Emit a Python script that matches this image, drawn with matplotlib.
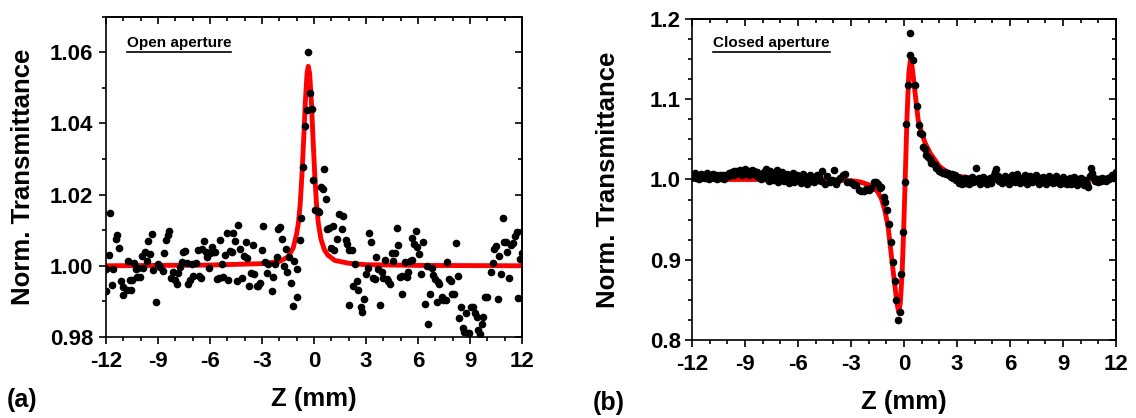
import matplotlib
matplotlib.use('Agg')
import matplotlib.pyplot as plt
from matplotlib.ticker import MultipleLocator, FormatStrFormatter, FuncFormatter
from matplotlib.lines import Line2D

plt.rcParams['font.family'] = ['Liberation Sans', 'DejaVu Sans']
plt.rcParams['font.weight'] = 'bold'

# ---- open aperture scan ----
z_open = [-12.0, -12.0, -11.83, -11.77, -11.67, -11.58, -11.44, -11.35, -11.25, -11.15,
          -11.04, -11.0, -10.81, -10.75, -10.62, -10.56, -10.48, -10.37, -10.29, -10.23,
          -10.13, -10.04, -9.94, -9.85, -9.75, -9.65, -9.56, -9.46, -9.33, -9.27,
          -9.13, -8.98, -8.88, -8.73, -8.63, -8.54, -8.44, -8.35, -8.25, -8.12,
          -8.02, -7.92, -7.83, -7.73, -7.63, -7.54, -7.44, -7.35, -7.25, -7.15,
          -7.06, -6.96, -6.81, -6.67, -6.63, -6.52, -6.44, -6.35, -6.25, -6.15,
          -6.06, -6.0, -5.9, -5.81, -5.71, -5.62, -5.48, -5.44, -5.33, -5.25,
          -5.15, -5.04, -4.94, -4.85, -4.75, -4.65, -4.56, -4.42, -4.37, -4.27,
          -4.13, -4.04, -3.94, -3.85, -3.73, -3.63, -3.54, -3.44, -3.31, -3.21,
          -3.12, -3.02, -2.92, -2.83, -2.73, -2.63, -2.44, -2.35, -2.25, -2.15,
          -2.06, -1.96, -1.83, -1.73, -1.63, -1.54, -1.44, -1.35, -1.23, -1.13,
          -1.0, -0.96, -0.81, -0.73, -0.62, -0.52, -0.42, -0.33, -0.23, -0.13,
          -0.04, 0.06, 0.21, 0.29, 0.4, 0.54, 0.6, 0.67, 0.77, 0.88,
          0.98, 1.08, 1.17, 1.31, 1.46, 1.6, 1.69, 1.85, 1.92, 2.0,
          2.04, 2.17, 2.27, 2.37, 2.46, 2.56, 2.69, 2.79, 2.88, 2.98,
          3.1, 3.17, 3.29, 3.42, 3.52, 3.6, 3.71, 3.81, 3.9, 4.0,
          4.1, 4.19, 4.29, 4.38, 4.48, 4.58, 4.67, 4.77, 4.87, 4.96,
          5.06, 5.1, 5.25, 5.35, 5.44, 5.54, 5.63, 5.67, 5.77, 5.87,
          5.96, 6.06, 6.17, 6.31, 6.4, 6.5, 6.6, 6.69, 6.79, 6.88,
          6.98, 7.08, 7.13, 7.23, 7.37, 7.46, 7.6, 7.69, 7.79, 7.9,
          7.98, 8.1, 8.19, 8.29, 8.38, 8.48, 8.58, 8.67, 8.77, 8.87,
          8.96, 9.06, 9.15, 9.29, 9.38, 9.48, 9.58, 9.67, 9.77, 9.87,
          9.96, 10.2, 10.31, 10.4, 10.48, 10.6, 10.69, 10.81, 10.88, 10.96,
          11.08, 11.15, 11.27, 11.37, 11.46, 11.6, 11.69, 11.79, 11.88, 11.98]
t_open = [0.993, 0.999, 1.003, 1.0147, 0.9947, 0.999, 1.0074, 1.0086, 1.0051, 0.9958,
          0.9917, 0.9941, 0.9932, 1.0013, 0.996, 0.9932, 0.996, 1.0009, 0.999, 0.9969,
          0.9993, 0.9969, 1.0027, 0.9994, 1.0039, 1.0013, 1.0069, 1.0033, 1.0089, 0.9988,
          0.9897, 1.0005, 0.9997, 0.9985, 1.0035, 1.0072, 1.0086, 1.0098, 0.9967, 0.9983,
          0.996, 0.995, 0.998, 0.9997, 1.0011, 1.0039, 1.0042, 1.0008, 0.995, 0.996,
          1.0005, 0.9971, 1.0008, 1.0044, 0.9971, 0.9967, 1.0046, 1.007, 1.0039, 1.0025,
          0.9995, 1.0035, 1.0053, 1.0039, 1.0039, 0.9962, 0.9967, 1.0072, 1.0005, 0.9969,
          1.003, 1.0091, 0.996, 1.0042, 1.0039, 1.0091, 1.007, 0.9958, 1.0114, 1.0046,
          0.9967, 1.0027, 1.0068, 1.0023, 0.9943, 0.998, 1.0057, 0.9977, 0.9943, 0.9943,
          0.9952, 1.0044, 1.0112, 1.0011, 0.9981, 1.0005, 0.9929, 0.9969, 1.0005, 1.0025,
          1.0102, 1.011, 1.0074, 0.9999, 1.0047, 0.9983, 1.0025, 0.9952, 0.9887, 1.0014,
          0.999, 0.9911, 1.0072, 1.0135, 1.0276, 1.0393, 1.0438, 1.06, 1.0485, 1.044,
          1.0241, 1.0158, 1.0155, 1.0152, 1.022, 1.0216, 1.0272, 1.0188, 1.0102, 1.0105,
          1.0051, 1.0112, 1.0044, 1.0074, 1.0145, 1.0102, 1.014, 1.0072, 1.0061, 0.989,
          1.0044, 1.0044, 0.9943, 1.0005, 0.9958, 0.9932, 0.9885, 0.9869, 0.9908, 0.9976,
          0.9994, 1.0093, 1.0068, 0.9967, 0.9962, 1.0024, 0.999, 0.9891, 0.9983, 0.9967,
          1.0016, 0.9962, 0.9958, 0.995, 1.0035, 1.0014, 1.0037, 1.0105, 1.0058, 0.9969,
          0.992, 0.9971, 1.0011, 0.9969, 0.9983, 1.0014, 1.0016, 1.0077, 1.0061, 1.0098,
          1.0053, 1.0033, 0.9977, 1.0068, 0.9894, 0.9999, 0.9836, 0.9922, 0.9994, 0.9974,
          0.9962, 0.9899, 0.9955, 0.995, 0.9911, 0.9905, 0.9905, 1.0011, 0.9962, 0.9958,
          0.992, 0.992, 1.0063, 0.9971, 0.9852, 0.9883, 0.9824, 0.9814, 0.9868, 0.9812,
          0.981, 0.9883, 0.9885, 0.9868, 0.9857, 0.9821, 0.9808, 0.9836, 0.9855, 0.9913,
          0.9911, 0.9983, 1.0007, 1.0046, 1.0055, 0.9908, 1.0027, 0.9978, 1.0135, 1.0068,
          1.0066, 1.0039, 0.9966, 1.0058, 1.0065, 1.0083, 1.0096, 0.991, 1.0018, 1.0037]

# fitted curve (open aperture)
z_open_fit = [-12, -6, -3, -2, -1.5, -1.2, -1.0, -0.9, -0.8, -0.7, -0.6, -0.5, -0.4,
              -0.33, -0.25, -0.15, -0.05, 0.05, 0.15, 0.25, 0.4, 0.6, 0.8, 1.2, 2.0,
              3, 6, 12]
t_open_fit = [1.0, 1.0002, 1.0006, 1.0012, 1.0025, 1.005, 1.009, 1.012, 1.017, 1.025,
              1.035, 1.046, 1.054, 1.056, 1.054, 1.046, 1.035, 1.025, 1.017, 1.012,
              1.0075, 1.0045, 1.003, 1.0015, 1.0007, 1.0003, 1.0001, 1.0]

# ---- closed aperture scan ----
z_closed = [-12.0, -11.92, -11.85, -11.77, -11.7, -11.62, -11.55, -11.47, -11.4, -11.32,
            -11.25, -11.17, -11.1, -11.02, -10.95, -10.87, -10.8, -10.72, -10.65, -10.57,
            -10.5, -10.42, -10.35, -10.27, -10.2, -10.12, -10.05, -9.97, -9.9, -9.82,
            -9.75, -9.67, -9.6, -9.52, -9.45, -9.37, -9.3, -9.22, -9.15, -9.07,
            -9.0, -8.92, -8.85, -8.77, -8.7, -8.62, -8.55, -8.47, -8.4, -8.32,
            -8.25, -8.17, -8.1, -8.02, -7.95, -7.87, -7.8, -7.72, -7.65, -7.57,
            -7.5, -7.42, -7.35, -7.27, -7.2, -7.12, -7.05, -6.97, -6.9, -6.82,
            -6.75, -6.67, -6.6, -6.52, -6.45, -6.37, -6.3, -6.22, -6.15, -6.07,
            -6.0, -5.92, -5.85, -5.77, -5.7, -5.62, -5.55, -5.47, -5.4, -5.32,
            -5.25, -5.17, -5.1, -5.02, -4.95, -4.87, -4.8, -4.72,
            -4.62, -4.49, -4.36, -4.21, -4.07, -3.94, -3.83, -3.73, -3.6, -3.45,
            -3.36, -3.22, -3.07, -2.92, -2.83, -2.7, -2.54, -2.41, -2.28, -2.13,
            -1.98, -1.85, -1.71, -1.56, -1.47, -1.38, -1.28, -1.15, -1.06, -0.94,
            -0.85, -0.75, -0.62, -0.53, -0.43, -0.34, -0.25, -0.15, -0.06, 0.04,
            0.13, 0.23, 0.32, 0.36, 0.51, 0.64, 0.74, 0.83, 0.92, 1.0,
            1.08, 1.17, 1.27, 1.36, 1.46, 1.55, 1.61, 1.74, 1.83, 1.92,
            2.0, 2.11, 2.2, 2.3, 2.4, 2.49,
            2.57, 2.65, 2.73, 2.8, 2.88, 2.96, 3.04, 3.12, 3.2, 3.28,
            3.36, 3.44, 3.52, 3.6, 3.68, 3.76, 3.84, 3.92, 4.0, 4.06,
            4.14, 4.22, 4.3, 4.38, 4.46, 4.54, 4.62, 4.7, 4.78, 4.86,
            4.94, 5.02, 5.1, 5.16, 5.23, 5.3, 5.38, 5.46, 5.54, 5.62,
            5.7, 5.78, 5.86, 5.94, 6.02, 6.1, 6.18, 6.26, 6.34, 6.42,
            6.5, 6.58, 6.66, 6.74, 6.82, 6.9, 6.98, 7.06, 7.14, 7.22,
            7.3, 7.38, 7.46, 7.54, 7.62, 7.7, 7.78, 7.86, 7.94, 8.02,
            8.1, 8.18, 8.26, 8.34, 8.42, 8.5, 8.58, 8.66, 8.74, 8.82,
            8.9, 8.98, 9.06, 9.14, 9.22, 9.3, 9.38, 9.46, 9.54, 9.62,
            9.7, 9.78, 9.86, 9.94, 10.02, 10.1, 10.18, 10.26, 10.34, 10.42,
            10.5, 10.6, 10.66, 10.74, 10.82, 10.9, 10.98, 11.06, 11.14, 11.22,
            11.3, 11.38, 11.46, 11.54, 11.62, 11.7, 11.78, 11.86, 11.94, 12.0]
t_closed = [1.006, 1.003, 1.008, 1.002, 1.005, 1.001, 1.004, 1.007, 1.003, 1.006,
            1.002, 1.008, 1.004, 1.001, 1.006, 1.003, 1.007, 1.002, 1.005, 1.0,
            1.004, 1.006, 1.002, 1.005, 1.001, 1.003, 1.006, 1.004, 1.008, 1.005,
            1.009, 1.006, 1.01, 1.007, 1.011, 1.008, 1.012, 1.009, 1.006, 1.01,
            1.013, 1.008, 1.011, 1.006, 1.009, 1.012, 1.007, 1.01, 1.005, 1.009,
            1.003, 1.007, 1.0, 1.004, 1.009, 1.002, 1.013, 1.006, 0.998, 1.011,
            1.004, 0.999, 1.008, 1.003, 1.012, 0.997, 1.006, 1.001, 1.009, 0.998,
            1.004, 1.0, 1.007, 0.996, 1.003, 0.999, 1.008, 0.997, 1.002, 1.005,
            0.999, 1.004, 0.996, 1.002, 1.007, 0.998, 1.003, 0.995, 1.001, 1.005,
            0.998, 1.003, 0.997, 1.002, 1.006, 0.999, 1.004, 0.998,
            1.0106, 0.9948, 1.0039, 0.9969, 0.999, 1.0114, 0.994, 0.9998, 1.0023, 1.0052,
            1.0073, 0.9969, 0.9969, 0.9961, 0.9927, 0.9927, 0.9865, 0.9857, 0.9857, 0.9886,
            0.9874, 0.9898, 0.9969, 0.9969, 0.9948, 0.9898, 0.9907, 0.9782, 0.972, 0.9617,
            0.9451, 0.9223, 0.8974, 0.8738, 0.8497, 0.8249, 0.8352, 0.8829, 0.9347, 0.9969,
            1.0694, 1.1171, 1.1827, 1.1544, 1.149, 1.1171, 1.091, 1.0674, 1.058, 1.056,
            1.041, 1.0375, 1.0305, 1.028, 1.025, 1.021, 1.02, 1.018, 1.014, 1.0126,
            1.011, 1.0097, 1.008, 1.0097, 1.007, 1.0077,
            1.006, 1.003, 1.007, 1.002, 1.005, 0.999, 1.003, 0.996, 1.001, 0.994,
            0.998, 1.002, 0.996, 1.0, 0.995, 0.999, 1.003, 0.997, 1.001, 1.0139,
            0.998, 1.002, 0.995, 0.999, 1.003, 0.997, 1.0, 0.994, 0.998, 1.002,
            0.996, 1.001, 1.005, 1.009, 1.0126, 1.004, 0.998, 1.002, 0.996, 1.0,
            1.004, 0.998, 1.002, 0.995, 0.999, 1.006, 1.001, 0.997, 1.003, 1.007,
            1.0, 0.996, 1.002, 0.998, 1.005, 0.999, 0.994, 1.001, 1.004, 0.997,
            1.002, 0.998, 1.005, 1.0, 0.995, 1.002, 0.997, 1.003, 0.999, 0.994,
            1.001, 1.004, 0.998, 1.002, 0.996, 1.0, 1.004, 0.997, 1.001, 0.995,
            0.999, 1.003, 0.996, 1.0, 0.994, 0.998, 1.002, 0.995, 0.999, 1.003,
            0.997, 0.993, 1.0, 0.996, 1.002, 0.997, 0.993, 0.999, 0.994, 0.991,
            1.004, 1.0139, 1.008, 1.002, 0.998, 1.001, 0.997, 1.0, 0.998, 1.002,
            0.999, 1.001, 0.998, 1.002, 1.0, 1.003, 1.005, 1.002, 1.007, 1.009]

# fitted curve (closed aperture)
z_closed_fit = [-12, -6, -4, -3, -2.5, -2.0, -1.75, -1.47, -1.28, -1.09, -0.9, -0.71,
                -0.53, -0.4, -0.3, -0.21, -0.11, -0.02, 0.08, 0.17, 0.27, 0.36, 0.46,
                0.61, 0.8, 1.0, 1.2, 1.5, 2.0, 2.5, 3.0, 4.0, 6.0, 12]
t_closed_fit = [1.0, 1.0, 0.9995, 0.9985, 0.997, 0.9935, 0.9907, 0.984, 0.976, 0.962,
                0.941, 0.904, 0.870, 0.846, 0.835, 0.846, 0.883, 0.937, 1.011, 1.078,
                1.132, 1.149, 1.14, 1.111, 1.074, 1.058, 1.045, 1.032, 1.0165, 1.008,
                1.004, 1.0015, 1.0005, 1.0]

fig = plt.figure(figsize=(11.36, 4.18), dpi=100)
ax1 = fig.add_axes([0.0933, 0.1938, 0.3662, 0.7667])
ax2 = fig.add_axes([0.6092, 0.1859, 0.3732, 0.7694])


def style_axes(ax, ylim, ymajor, yminor, ypad):
    ax.set_xlim(-12, 12)
    ax.set_ylim(*ylim)
    ax.xaxis.set_major_locator(MultipleLocator(3))
    ax.xaxis.set_minor_locator(MultipleLocator(1))
    ax.yaxis.set_major_locator(MultipleLocator(ymajor))
    ax.yaxis.set_minor_locator(MultipleLocator(yminor))
    ax.xaxis.set_major_formatter(FuncFormatter(lambda v, p: '%d' % v))
    for s in ax.spines.values():
        s.set_linewidth(1.2)
    ax.tick_params(which='major', direction='out', length=5, width=1.2, labelsize=16)
    ax.tick_params(which='minor', direction='out', length=3, width=1.2)
    ax.tick_params(axis='x', pad=5)
    ax.tick_params(axis='y', pad=ypad)
    # inward ticks on the top and right frame
    top = ax.secondary_xaxis('top')
    top.xaxis.set_major_locator(MultipleLocator(3))
    top.xaxis.set_minor_locator(MultipleLocator(1))
    top.tick_params(which='major', direction='in', length=5, width=1.2, labeltop=False)
    top.tick_params(which='minor', direction='in', length=3, width=1.2)
    top.spines['top'].set_linewidth(1.2)
    right = ax.secondary_yaxis('right')
    right.yaxis.set_major_locator(MultipleLocator(ymajor))
    right.yaxis.set_minor_locator(MultipleLocator(yminor))
    right.tick_params(which='major', direction='in', length=5, width=1.2, labelright=False)
    right.tick_params(which='minor', direction='in', length=3, width=1.2)
    right.spines['right'].set_linewidth(1.2)
    ax.set_xlabel('Z (mm)', fontsize=18.5, fontweight='bold')
    ax.set_ylabel('Norm. Transmittance', fontsize=18.5, fontweight='bold')
    ax.xaxis.set_label_coords(0.5, -0.155)
    ax.yaxis.set_label_coords(-0.17, 0.5)


ax1.plot(z_open_fit, t_open_fit, color='red', lw=3.5, zorder=2)
ax1.plot(z_open, t_open, 'o', color='black', ms=4.5, zorder=3)
style_axes(ax1, (0.98, 1.07), 0.02, 0.01, 4)
ax1.yaxis.set_major_formatter(FormatStrFormatter('%.2f'))

ax2.plot(z_closed_fit, t_closed_fit, color='red', lw=3.5, zorder=2)
ax2.plot(z_closed, t_closed, 'o', color='black', ms=4.5, zorder=3)
style_axes(ax2, (0.8, 1.2), 0.1, 0.025, 3)
ax2.yaxis.set_major_formatter(FormatStrFormatter('%.1f'))

t1 = ax1.text(0.05, 0.917, 'Open aperture', transform=ax1.transAxes,
              fontsize=11, fontweight='bold', va='center', ha='left')
t2 = ax2.text(0.05, 0.924, 'Closed aperture', transform=ax2.transAxes,
              fontsize=11, fontweight='bold', va='center', ha='left')

fig.text(7 / 1136, 0.043, '(a)', fontsize=18, fontweight='bold', va='center', ha='left')
fig.text(593 / 1136, 0.036, '(b)', fontsize=18, fontweight='bold', va='center', ha='left')

# underline the panel captions
fig.canvas.draw()
renderer = fig.canvas.get_renderer()
for t in (t1, t2):
    bb = t.get_window_extent(renderer).transformed(fig.transFigure.inverted())
    y = bb.y0 - 0.004
    fig.add_artist(Line2D([bb.x0, bb.x1], [y, y], transform=fig.transFigure,
                          color='black', lw=1.2))

fig.savefig('out.png', dpi=100)
